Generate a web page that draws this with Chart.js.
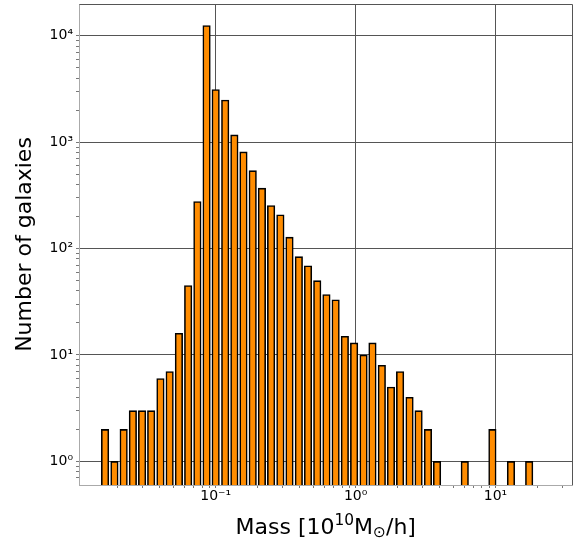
<!DOCTYPE html>
<html>
<head>
<meta charset="utf-8">
<script src="https://cdn.jsdelivr.net/npm/chart.js@4.4.1/dist/chart.umd.min.js"></script>
<style>
	body { margin: 0; background: #fff; }
	#wrap { width: 579px; height: 540px; }
</style>
</head>
<body>
<div id="wrap"><canvas id="mycanvas" width="579" height="540"></canvas></div>
<script>
// centres of the log spaced mass bins [1e10 Msun/h]
var massBins = [0.0162, 0.0189, 0.0220, 0.0256, 0.0298, 0.0346, 0.0403, 0.0469, 0.0546, 0.0636,
	0.0740, 0.0861, 0.100, 0.117, 0.136, 0.158, 0.184, 0.214, 0.249, 0.290,
	0.337, 0.393, 0.457, 0.532, 0.619, 0.720, 0.838, 0.976, 1.14, 1.32,
	1.54, 1.79, 2.08, 2.43, 2.82, 3.29, 3.82, 4.45, 5.18, 6.03,
	7.02, 8.17, 9.50, 11.1, 12.9, 15.0, 17.4];
// galaxies per bin (0 = empty bin)
var galaxyCounts = [2, 1, 2, 3, 3, 3, 6, 7, 16, 45,
	277, 12500, 3130, 2490, 1170, 810, 540, 370, 254, 208,
	128, 84, 69, 50, 37, 33, 15, 13, 10, 13,
	8, 5, 7, 4, 3, 2, 1, 0, 0, 1,
	0, 0, 2, 0, 1, 0, 1];

var xMajorTicks = [0.1, 1, 10];
var xTickLabels = ['10⁻¹', '10⁰', '10¹'];
var yMajorTicks = [1, 10, 100, 1000, 10000];
var yTickLabels = ['10⁰', '10¹', '10²', '10³', '10⁴'];

var fontFamily = 'DejaVu Sans';

// 1..9 x 10^n ticks between lo and hi (like matplotlib's minor log ticks)
function logTicks(lo, hi) {
	var out = [];
	for (var e = Math.floor(Math.log10(lo)); e <= Math.floor(Math.log10(hi)); e++) {
		for (var k = 1; k < 10; k++) {
			var v = +(k * Math.pow(10, e)).toPrecision(3);
			if (v >= lo && v <= hi) out.push({value: v});
		}
	}
	return out;
}

function isMajor(list, v) {
	return list.indexOf(v) >= 0;
}

// axes frame on top and right
var framePlugin = {
	id: 'frame',
	afterDatasetsDraw: function(chart) {
		var a = chart.chartArea, ctx = chart.ctx;
		ctx.save();
		ctx.strokeStyle = '#555';
		ctx.lineWidth = 1;
		ctx.beginPath();
		ctx.moveTo(Math.round(a.left) + 0.5, Math.round(a.top) + 0.5);
		ctx.lineTo(Math.round(a.right) - 0.5, Math.round(a.top) + 0.5);
		ctx.lineTo(Math.round(a.right) - 0.5, Math.round(a.bottom));
		ctx.stroke();
		ctx.restore();
	}
};

// x label with super/subscripts
var xTitlePlugin = {
	id: 'xtitle',
	afterDraw: function(chart) {
		var ctx = chart.ctx, a = chart.chartArea;
		var parts = [
			{t: 'Mass [10', s: 22, dy: 0},
			{t: '10', s: 15.4, dy: -8.5},
			{t: 'M', s: 22, dy: 0},
			{t: '⊙', s: 15.4, dy: 3},
			{t: '/h]', s: 22, dy: 0}
		];
		ctx.save();
		ctx.fillStyle = '#000';
		ctx.textBaseline = 'alphabetic';
		var total = 0;
		parts.forEach(function(p) {
			ctx.font = p.s + 'px "' + fontFamily + '"';
			p.w = ctx.measureText(p.t).width;
			total += p.w;
		});
		var x = (a.left + a.right) / 2 - total / 2;
		var y = 533.5;
		parts.forEach(function(p) {
			ctx.font = p.s + 'px "' + fontFamily + '"';
			ctx.fillText(p.t, x, y + p.dy);
			x += p.w;
		});
		ctx.restore();
	}
};

var xMin = 0.01055, xMax = 35.5;
var yMin = 0.627, yMax = 19900;

var chartdata = {
	datasets: [{
		label: 'galaxies',
		data: massBins.map(function(m, i) {
			return {x: m, y: galaxyCounts[i] > 0 ? galaxyCounts[i] : null};
		}),
		backgroundColor: '#ff8c00',
		borderColor: '#000000',
		borderWidth: 1.6,
		borderSkipped: 'start',
		barThickness: 7.5
	}]
};

var ctx = document.getElementById('mycanvas');

var barGraph = new Chart(ctx, {
	type: 'bar',
	data: chartdata,
	plugins: [framePlugin, xTitlePlugin],
	options: {
		responsive: false,
		animation: false,
		layout: { autoPadding: false, padding: { top: 4, right: 6.5, left: 0, bottom: 0 } },
		plugins: {
			legend: { display: false },
			tooltip: { enabled: false }
		},
		scales: {
			x: {
				type: 'logarithmic',
				min: xMin,
				max: xMax,
				offset: false,
				afterBuildTicks: function(scale) {
					scale.ticks = logTicks(xMin, xMax);
				},
				afterFit: function(scale) {
					scale.height = 55;
					scale.paddingLeft = 0;
					scale.paddingRight = 0;
				},
				grid: {
					offset: false,
					lineWidth: 1,
					tickLength: 3,
					tickColor: '#777',
					color: function(c) {
						return c.tick && isMajor(xMajorTicks, c.tick.value) ? '#555' : 'rgba(0,0,0,0)';
					}
				},
				border: { color: '#aaa' },
				ticks: {
					autoSkip: false,
					maxRotation: 0,
					padding: 0,
					color: '#000',
					font: { family: fontFamily, size: 14 },
					callback: function(value) {
						var i = xMajorTicks.indexOf(value);
						return i >= 0 ? xTickLabels[i] : '';
					}
				}
			},
			y: {
				type: 'logarithmic',
				min: yMin,
				max: yMax,
				afterBuildTicks: function(scale) {
					scale.ticks = logTicks(yMin, yMax);
				},
				afterFit: function(scale) {
					scale.width = 79;
					scale.paddingTop = 0;
					scale.paddingBottom = 0;
				},
				grid: {
					lineWidth: 1,
					tickLength: 3,
					tickColor: '#777',
					color: function(c) {
						return c.tick && isMajor(yMajorTicks, c.tick.value) ? '#555' : 'rgba(0,0,0,0)';
					}
				},
				border: { color: '#aaa' },
				ticks: {
					autoSkip: false,
					padding: 3,
					color: '#000',
					font: { family: fontFamily, size: 14 },
					callback: function(value) {
						var i = yMajorTicks.indexOf(value);
						return i >= 0 ? yTickLabels[i] : '';
					}
				},
				title: {
					display: true,
					text: 'Number of galaxies',
					color: '#000',
					font: { family: fontFamily, size: 22 },
					padding: { top: 12, bottom: 0 }
				}
			}
		}
	}
});
</script>
</body>
</html>
